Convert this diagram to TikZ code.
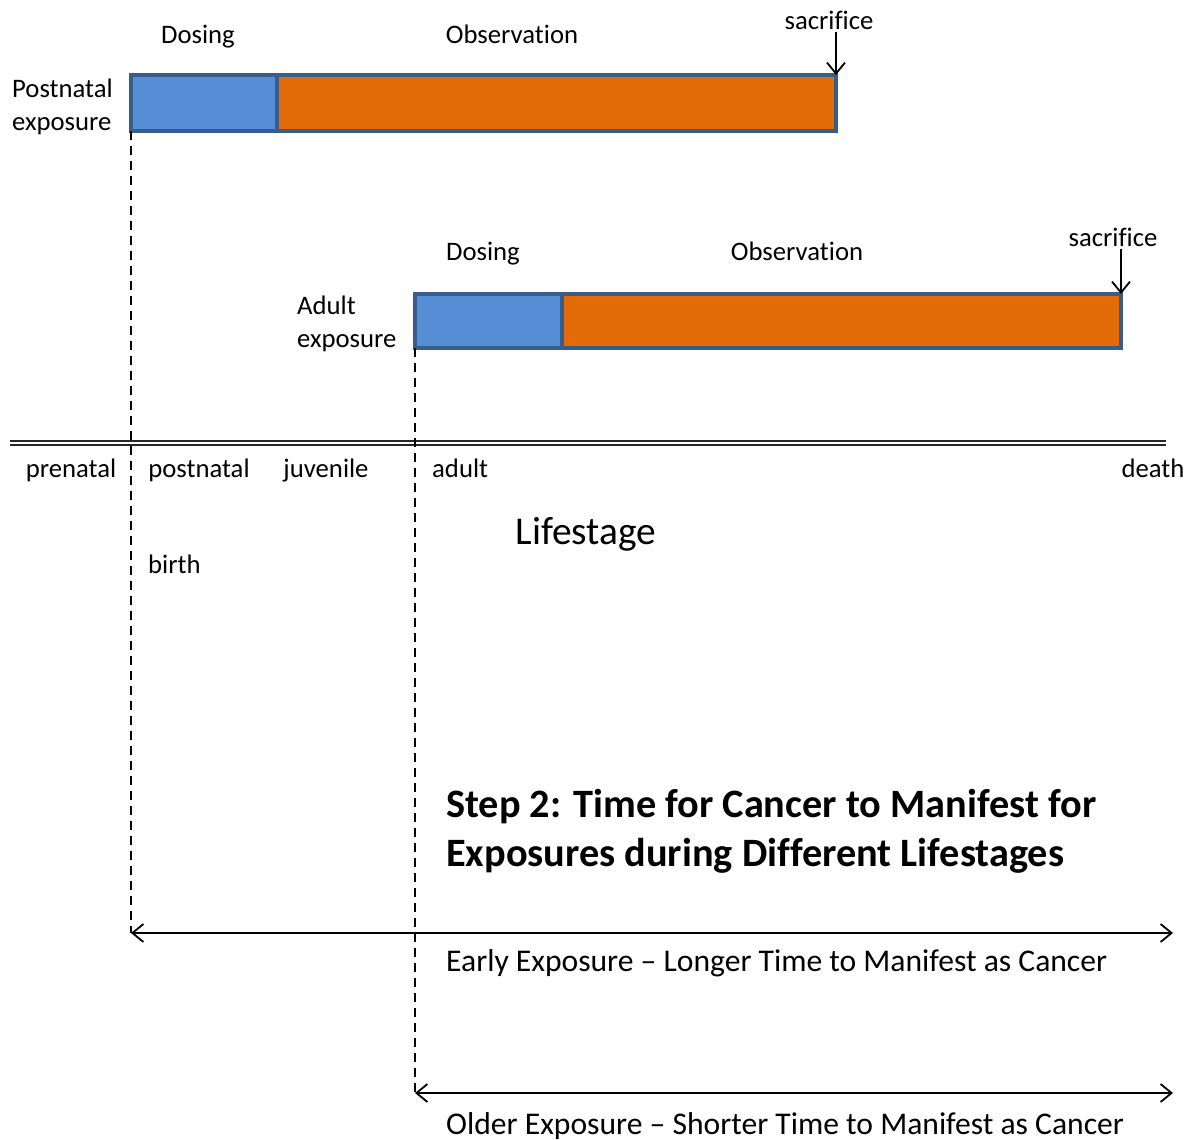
\documentclass[tikz,border=0pt]{standalone}
\usepackage{fontspec}
\setmainfont{Carlito}[Ligatures=NoCommon]
\usetikzlibrary{arrows.meta}
\definecolor{dosblue}{HTML}{558ED5}
\definecolor{obsorange}{HTML}{E36C09}
\definecolor{barline}{HTML}{385D8A}
\tikzset{
  bar/.style={draw=barline, line width=3.5pt, inner sep=0pt, outer sep=0pt, anchor=north west},
  lbl/.style={font=\fontsize{26.7}{32}\selectfont, inner sep=0pt, anchor=mid},
  lbll/.style={lbl, anchor=mid west},
  lblbl/.style={font=\fontsize{26.7}{33}\selectfont, inner sep=0pt, anchor=north west, align=left},
  biglbl/.style={font=\fontsize{31.6}{38}\selectfont, inner sep=0pt, anchor=mid west},
  dline/.style={dash pattern=on 9pt off 6pt, line width=2pt},
  harrow/.style={line width=1.8pt, {Straight Barb[length=11pt,width=18pt,line width=1.8pt]}-{Straight Barb[length=11pt,width=18pt,line width=1.8pt]}},
  sarrow/.style={line width=1.8pt, -{Straight Barb[length=11pt,width=18pt,line width=1.8pt]}},
}
\begin{document}
\begin{tikzpicture}[x=1pt, y=-1pt]
\useasboundingbox (0,0) rectangle (1192,1140);
% postnatal bar
\node[bar, fill=obsorange, minimum width=559pt, minimum height=56pt] (obs1) at (277,75) {};
\node[bar, fill=dosblue, minimum width=146pt, minimum height=56pt] (dos1) at (131,75) {};
\node[lbl] (tdos1) at (198,41) {Dosing};
\node[lbl] (tobs1) at (512,41) {Observation};
\node[lbl] (sac1) at (829,27) {sacrifice};
\node[lblbl] (post) at (12,79) {Postnatal\\exposure};
\draw[sarrow] (sac1.south -| obs1.north east) ++(0,2) -- (obs1.north east);
% adult bar
\node[bar, fill=obsorange, minimum width=559pt, minimum height=54pt] (obs2) at (562,294) {};
\node[bar, fill=dosblue, minimum width=147pt, minimum height=54pt] (dos2) at (415,294) {};
\node[lbl] (tdos2) at (483,258) {Dosing};
\node[lbl] (tobs2) at (797,258) {Observation};
\node[lbl] (sac2) at (1113,244) {sacrifice};
\node[lblbl] (adu) at (297,296) {Adult\\exposure};
\draw[sarrow] (sac2.south -| obs2.north east) ++(0,2) -- (obs2.north east);
% timeline
\coordinate (tl) at (10,443);
\coordinate (tr) at (1166,443);
\draw[double, line width=1.6pt, double distance=2.2pt, color=black!85] (tl) -- (tr);
\node[lbl] (pre) at (71,475) {prenatal};
\node[lbl] (pos) at (199,475) {postnatal};
\node[lbl] (juv) at (326,475) {juvenile};
\node[lbll] (adl) at (432,475) {adult};
\node[lbl] (dea) at (1153,475) {death};
\node[font=\fontsize{39.4}{46}\selectfont, inner sep=0pt, anchor=mid] (life) at (586,542) {Lifestage};
\node[lbll] (bir) at (148,571) {birth};
% step text
\node[font=\fontsize{40.3}{49}\selectfont\bfseries, inner sep=0pt, anchor=north west, align=left] (step) at (446,789) {Step 2: Time for Cancer to Manifest for\\Exposures during Different Lifestages};
% dashed lines and arrows
\coordinate (b1) at (131,933);
\coordinate (e1) at (1173,933);
\coordinate (a1) at (415,1093);
\coordinate (e2) at (1173,1093);
\draw[dline] (dos1.south west) -- (b1);
\draw[dline] (dos2.south west) -- (a1);
\draw[harrow] (b1) -- (e1);
\draw[harrow] (a1) -- (e2);
\node[biglbl] (early) at (446,969) {Early Exposure – Longer Time to Manifest as Cancer};
\node[biglbl] (older) at (446,1132) {Older Exposure – Shorter Time to Manifest as Cancer};
\end{tikzpicture}
\end{document}
